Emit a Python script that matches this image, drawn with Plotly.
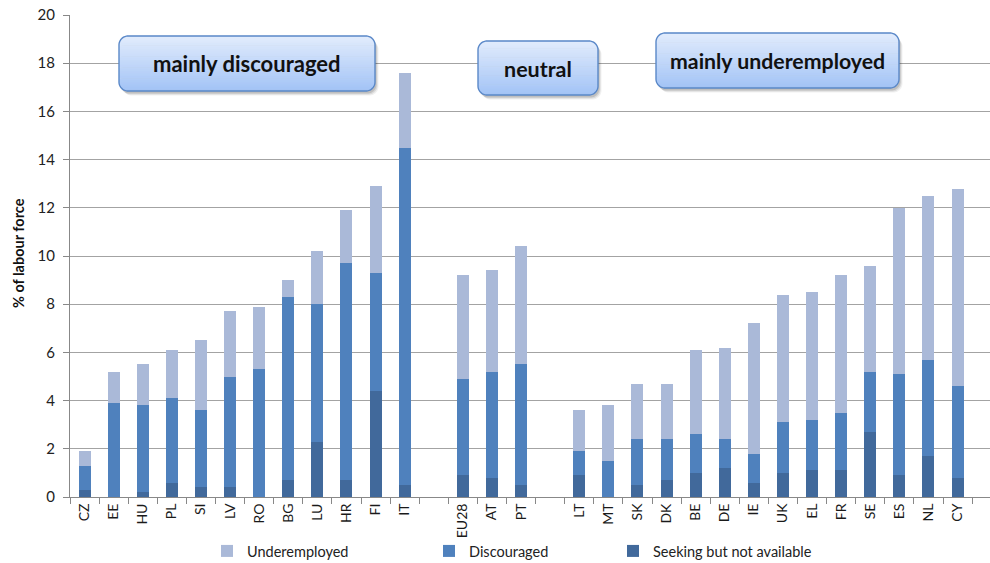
import math
import plotly.graph_objects as go

# Country codes (two blank slots separate the three groups)
countries = ["CZ", "EE", "HU", "PL", "SI", "LV", "RO", "BG", "LU", "HR", "FI", "IT", " ",
             "EU28", "AT", "PT", "  ",
             "LT", "MT", "SK", "DK", "BE", "DE", "IE", "UK", "EL", "FR", "SE", "ES", "NL", "CY"]

# % of labour force, per component
seeking = [0.3, 0.0, 0.2, 0.6, 0.4, 0.4, 0.0, 0.7, 2.3, 0.7, 4.4, 0.5, None,
           0.9, 0.8, 0.5, None,
           0.9, 0.0, 0.5, 0.7, 1.0, 1.2, 0.6, 1.0, 1.1, 1.1, 2.7, 0.9, 1.7, 0.8]
discouraged = [1.0, 3.9, 3.6, 3.5, 3.2, 4.6, 5.3, 7.6, 5.7, 9.0, 4.9, 14.0, None,
               4.0, 4.4, 5.0, None,
               1.0, 1.5, 1.9, 1.7, 1.6, 1.2, 1.2, 2.1, 2.1, 2.4, 2.5, 4.2, 4.0, 3.8]
underemployed = [0.6, 1.3, 1.7, 2.0, 2.9, 2.7, 2.6, 0.7, 2.2, 2.2, 3.6, 3.1, None,
                 4.3, 4.2, 4.9, None,
                 1.7, 2.3, 2.3, 2.3, 3.5, 3.8, 5.4, 5.3, 5.3, 5.7, 4.4, 6.9, 6.8, 8.2]

group_labels = ["mainly discouraged", "neutral", "mainly underemployed"]

C_UNDER = "#AAB9D8"
C_DISC = "#4F81BD"
C_SEEK = "#41699B"
FONT = "Lato"

W, H = 990, 563
ML, MR, MT, MB = 70, 0, 15, 66
PW = W - ML - MR
PH = H - MT - MB
CAT_W = 29.1  # pixel width of one category slot


def px(x):
    return (x - ML) / PW


def py(y):
    return (MT + PH - y) / PH


def inset(y, y0, y1, r):
    if y < y0 + r:
        d = y0 + r - y
    elif y > y1 - r:
        d = y - (y1 - r)
    else:
        return 0.0
    d = min(d, r)
    return r - math.sqrt(max(r * r - d * d, 0.0))


def band_path(x0, x1, y0, y1, r, ya, yb):
    cand = {ya, yb, y0 + r, y1 - r}
    for k in range(0, 19):
        t = math.radians(k * 5)
        cand.add(y0 + r * (1 - math.sin(t)))
        cand.add(y1 - r * (1 - math.sin(t)))
    ys = sorted(v for v in cand if ya <= v <= yb)
    left = [(x0 + inset(y, y0, y1, r), y) for y in ys]
    right = [(x1 - inset(y, y0, y1, r), y) for y in reversed(ys)]
    pts = left + right
    return "M " + " L ".join(f"{px(a):.5f},{py(b):.5f}" for a, b in pts) + " Z"


def lerp_color(c0, c1, t):
    return "rgb({},{},{})".format(*[round(a + (b - a) * t) for a, b in zip(c0, c1)])


TOP = (226, 236, 252)
BOT = (162, 195, 246)


def rounded_box(x0, x1, y0, y1, r=9, n=30):
    shp = []
    # soft drop shadow
    for dx, dy, a in [(3.5, 4.5, 0.06), (2.5, 3.5, 0.09), (1.5, 2.5, 0.12)]:
        shp.append(dict(type="path", xref="paper", yref="paper", layer="above",
                        path=band_path(x0 + dx, x1 + dx, y0 + dy, y1 + dy, r, y0 + dy, y1 + dy),
                        fillcolor=f"rgba(0,0,0,{a})", line=dict(width=0)))
    # vertical gradient
    h = (y1 - y0) / n
    for i in range(n):
        ya = y0 + i * h
        yb = min(y1, ya + h + 0.6)
        shp.append(dict(type="path", xref="paper", yref="paper", layer="above",
                        path=band_path(x0, x1, y0, y1, r, ya, yb),
                        fillcolor=lerp_color(TOP, BOT, (i + 0.5) / n), line=dict(width=0)))
    # outline
    shp.append(dict(type="path", xref="paper", yref="paper", layer="above",
                    path=band_path(x0, x1, y0, y1, r, y0, y1),
                    fillcolor="rgba(0,0,0,0)", line=dict(color="#5A88C8", width=1.4)))
    return shp


boxes = [(119, 375, 36, 91), (478, 598, 41, 95), (656, 899, 33, 88)]
label_sizes = [22, 21.5, 21.3]

fig = go.Figure()
fig.add_trace(go.Bar(x=countries, y=seeking, name="Seeking but not available",
                     marker=dict(color=C_SEEK, line=dict(width=0)), legend="legend3"))
fig.add_trace(go.Bar(x=countries, y=discouraged, name="Discouraged",
                     marker=dict(color=C_DISC, line=dict(width=0)), legend="legend2"))
fig.add_trace(go.Bar(x=countries, y=underemployed, name="Underemployed",
                     marker=dict(color=C_UNDER, line=dict(width=0)), legend="legend"))

shapes = []
annotations = []
for (x0, x1, y0, y1), lab, fs in zip(boxes, group_labels, label_sizes):
    shapes += rounded_box(x0, x1, y0, y1)
    annotations.append(dict(xref="paper", yref="paper", x=px((x0 + x1) / 2), y=py((y0 + y1) / 2 + 0.5),
                            text=f"<b>{lab}</b>", showarrow=False,
                            font=dict(family=FONT, size=fs, color="#111111"),
                            xanchor="center", yanchor="middle"))

annotations.append(dict(xref="paper", yref="paper", x=px(18), y=py(253),
                        text="<b>% of labour force</b>", textangle=-90, showarrow=False,
                        font=dict(family=FONT, size=14.5, color="#111111"),
                        xanchor="center", yanchor="middle"))

leg_common = dict(orientation="h", xref="paper", yref="paper", yanchor="middle", xanchor="left",
                  font=dict(family=FONT, size=14.5, color="#222222"), bgcolor="rgba(0,0,0,0)")

fig.update_layout(
    width=W, height=H,
    margin=dict(l=ML, r=MR, t=MT, b=MB, autoexpand=False),
    paper_bgcolor="white", plot_bgcolor="white",
    barmode="stack", bargap=0.59,
    font=dict(family=FONT, size=13, color="#222222"),
    xaxis=dict(type="category", categoryorder="array", categoryarray=countries,
               range=[-0.5, -0.5 + PW / CAT_W], tickangle=-90, automargin=False,
               ticks="outside", tickson="boundaries", ticklen=6, tickcolor="#888888",
               showline=True, linecolor="#888888", linewidth=1, showgrid=False,
               tickfont=dict(family=FONT, size=14, color="#1a1a1a")),
    yaxis=dict(range=[0, 20], dtick=2, showgrid=True, gridcolor="#A3A3A3", gridwidth=1,
               zeroline=False, showline=True, linecolor="#888888", linewidth=1,
               automargin=False, ticks="outside", ticklen=6, tickcolor="#888888",
               ticklabelstandoff=5,
               tickfont=dict(family=FONT, size=15, color="#222222")),
    showlegend=True,
    legend=dict(x=px(207), y=py(551), **leg_common),
    legend2=dict(x=px(429), y=py(551), **leg_common),
    legend3=dict(x=px(613), y=py(551), **leg_common),
    shapes=shapes,
    annotations=annotations,
)

fig.write_html("out.html")
